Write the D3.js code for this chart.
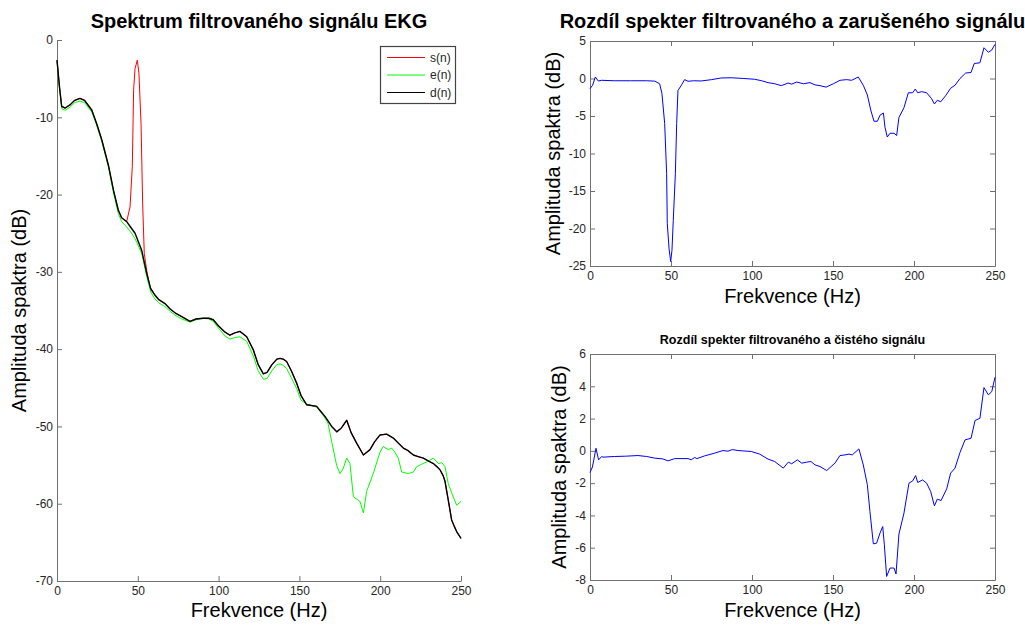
<!DOCTYPE html>
<html>
<head>
<meta charset="utf-8">
<script src="https://cdn.jsdelivr.net/npm/d3@7"></script>
<style>
  html, body { margin: 0; padding: 0; background: #fff; }
  svg { display: block; font-family: "Liberation Sans", Arial, sans-serif; }
</style>
</head>
<body>
<svg id="chart" width="1025" height="629"></svg>
<script>
// ---------- DATA ----------
const xTicks = [0, 50, 100, 150, 200, 250];
const leftYTicks = [-70, -60, -50, -40, -30, -20, -10, 0];
const topRightYTicks = [-25, -20, -15, -10, -5, 0, 5];
const bottomRightYTicks = [-8, -6, -4, -2, 0, 2, 4, 6];

const legendLabels = ["s(n)", "e(n)", "d(n)"];
const seriesColors = ["#ff0000", "#00ff00", "#000000"];
const seriesWidths = [1, 1, 1.4];

// s(n) – noisy signal spectrum [Hz, dB]
const sSeries = [
  [0,-2.6],[1.5,-6.0],[2.9,-8.6],[5,-8.8],[8,-8.4],[11,-7.8],[14.2,-7.55],[17,-7.8],
  [21.5,-9.06],[24.5,-10.8],[27.7,-12.9],[31.8,-16.2],[35,-19.5],[37.9,-22],[40,-23],
  [43.1,-23.5],[45.2,-21.6],[46.6,-16.4],[47.4,-6.5],[48.3,-3.7],[49.7,-2.6],[50.7,-4.3],
  [52,-10.8],[53,-21.1],[54,-27.6],[55.5,-29.8],[57.5,-31.9],[60.6,-33],[63,-33.6],
  [66.8,-34.1],[70,-34.8],[73,-35.3],[77.2,-35.8],[82.3,-36.4],[86,-36.1],[90.5,-36.0],
  [94,-36.0],[96.7,-36.2],[100,-37.0],[104,-37.8],[107,-38.2],[110,-37.9],[113.2,-37.7],
  [117.4,-38.4],[121.5,-40.1],[124.5,-42.0],[127.7,-43.2],[130,-43.0],[133,-42.0],
  [136,-41.3],[138,-41.2],[140,-41.3],[142.1,-41.6],[145,-42.8],[148.3,-44.4],[151,-46.0],
  [154.5,-47.2],[157.5,-47.3],[160.7,-47.4],[163,-48.0],[165.8,-48.7],[170,-50.0],
  [173.1,-50.7],[176,-50.2],[179.3,-49.2],[182,-50.8],[185.5,-52.2],[189.6,-53.7],
  [193.7,-53.0],[196.5,-52.0],[199.9,-51.1],[204,-51.0],[208.1,-51.5],[211,-52.1],
  [214.3,-52.8],[217,-53.1],[220.5,-53.7],[223.5,-53.9],[226.7,-54.1],[230,-54.5],
  [232.9,-54.8],[235,-55.2],[237,-55.6],[239,-56.4],[240.1,-57.1],[242.1,-59.5],
  [244.2,-62.1],[246,-63.0],[247.3,-63.6],[250,-64.5]
];

// e(n) – clean signal spectrum
const eSeries = [
  [0,-2.6],[1.5,-6.2],[3,-8.9],[5,-9.1],[8,-8.7],[11,-8.1],[14.2,-7.9],[17,-8.1],
  [21.5,-9.3],[24.5,-11],[27.7,-13.1],[31.8,-16.4],[35,-19.8],[37.9,-22.4],[40,-23.5],
  [43.1,-24.2],[45.5,-24.8],[48.3,-25.7],[52.4,-27.6],[55.5,-30.6],[58,-32.6],[60.6,-33.5],
  [63,-34.0],[66.8,-34.5],[70,-35.1],[73,-35.6],[77.2,-36.1],[82.3,-36.5],[86,-36.2],
  [90.5,-36.0],[94,-36.1],[96.7,-36.4],[100,-37.3],[104,-38.3],[107,-38.7],[110,-38.5],
  [113.2,-38.4],[117.4,-39.0],[121.5,-40.9],[124.5,-42.8],[127.7,-43.9],[130,-43.8],
  [133,-42.8],[136,-42.0],[138,-41.9],[140,-42.1],[142.1,-42.5],[145,-43.7],[148.3,-45.1],
  [151,-46.6],[154.5,-47.1],[157.5,-47.3],[160.7,-47.5],[163,-48.1],[165.8,-48.9],
  [167.7,-49.6],[170,-52],[173,-55],[175.1,-56.1],[177,-55.5],[179.3,-54.1],[181.3,-54.8],
  [183.4,-59.1],[187.5,-59.7],[189.6,-61.2],[191.6,-58.4],[195.7,-56.1],[199.9,-53.3],
  [201.9,-52.6],[205,-53.0],[207.1,-52.8],[209,-53.3],[211.2,-54.1],[213.3,-55.9],
  [217.4,-56.1],[220.5,-55.9],[222.6,-55.2],[225.5,-54.9],[228.8,-54.6],[232.9,-54.1],
  [236,-54.8],[238.1,-54.7],[240.1,-55.2],[242.1,-57.4],[245,-59.0],[247.3,-60.2],[250,-59.7]
];

// d(n) – filtered signal spectrum
const dSeries = [
  [0,-2.6],[1.5,-6.0],[2.9,-8.6],[5,-8.8],[8,-8.4],[11,-7.8],[14.2,-7.55],[17,-7.8],
  [21.5,-9.06],[24.5,-10.8],[27.7,-12.9],[31.8,-16.2],[35,-19.5],[37.9,-22],[40,-23],
  [43.1,-23.5],[45.5,-24.2],[48.3,-25],[52.4,-27.2],[55.5,-30.2],[58,-32.2],[60.6,-33],
  [63,-33.6],[66.8,-34.1],[70,-34.8],[73,-35.3],[77.2,-35.8],[82.3,-36.4],[86,-36.1],
  [90.5,-36.0],[94,-36.0],[96.7,-36.2],[100,-37.0],[104,-37.8],[107,-38.2],[110,-37.9],
  [113.2,-37.7],[117.4,-38.4],[121.5,-40.1],[124.5,-42.0],[127.7,-43.2],[130,-43.0],
  [133,-42.0],[136,-41.3],[138,-41.2],[140,-41.3],[142.1,-41.6],[145,-42.8],[148.3,-44.4],
  [151,-46.0],[154.5,-47.2],[157.5,-47.3],[160.7,-47.4],[163,-48.0],[165.8,-48.7],
  [170,-50.0],[173.1,-50.7],[176,-50.2],[179.3,-49.2],[182,-50.8],[185.5,-52.2],
  [189.6,-53.7],[193.7,-53.0],[196.5,-52.0],[199.9,-51.1],[204,-51.0],[208.1,-51.5],
  [211,-52.1],[214.3,-52.8],[217,-53.1],[220.5,-53.7],[223.5,-53.9],[226.7,-54.1],
  [230,-54.5],[232.9,-54.8],[235,-55.2],[237,-55.6],[239,-56.4],[240.1,-57.1],
  [242.1,-59.5],[244.2,-62.1],[246,-63.0],[247.3,-63.6],[250,-64.5]
];

// difference filtered − noisy
const diffNoisy = [
  [0,-1.35],[1.6,-0.9],[3.3,0.2],[5.1,-0.33],[7.2,-0.24],[15,-0.3],[25,-0.3],[35,-0.3],
  [40,-0.35],[43,-0.7],[44.4,-2.0],[46.1,-6.0],[47.3,-12.7],[47.7,-19.3],[48.8,-22.7],
  [49.8,-24.4],[50.6,-22.9],[51.4,-18.9],[52.7,-12.7],[53.5,-6.0],[54.3,-1.6],[56.4,-0.9],
  [58.4,-0.15],[60.5,-0.37],[64,-0.3],[68.7,-0.33],[75,-0.15],[81,0.07],[87.2,0.1],
  [95,0.0],[101.6,-0.1],[106,-0.3],[109.9,-0.55],[114,-0.7],[118.1,-0.95],[122.3,-0.6],
  [124.5,-0.75],[127.6,-0.47],[131.7,-0.7],[135.8,-0.55],[138.9,-0.85],[142,-0.95],
  [145.7,-1.15],[150.2,-0.7],[154.3,-0.24],[158.4,-0.15],[161.5,-0.24],[165.6,0.2],
  [168.7,-0.9],[171.2,-2.2],[173.3,-4.2],[175.3,-5.7],[177.4,-5.7],[179,-4.9],[181.1,-4.6],
  [182.1,-6.5],[183.5,-7.8],[185.2,-7.3],[187.7,-7.3],[189.3,-7.6],[190.7,-5.2],
  [193.8,-3.9],[196.5,-1.9],[199.2,-1.9],[200.8,-1.4],[202.3,-1.9],[204.7,-1.75],
  [207.8,-1.9],[210.9,-2.7],[212.6,-3.4],[214.4,-2.9],[216.5,-3.1],[219.5,-2.3],
  [222.6,-1.3],[225.3,-0.9],[228.4,0.0],[231.9,0.73],[235.2,0.8],[237.2,2.0],[240.7,2.1],
  [243.2,4.1],[245.9,3.5],[248,3.8],[250,4.56]
];

// difference filtered − clean
const diffClean = [
  [0,-1.34],[1.5,-1.0],[3.7,0.16],[5.3,-0.56],[7.2,-0.35],[8,-0.39],[15,-0.35],[22,-0.33],
  [29.6,-0.29],[35,-0.35],[39.9,-0.45],[45,-0.5],[48.1,-0.62],[52.3,-0.48],[60.5,-0.48],
  [62.5,-0.55],[64.6,-0.41],[66,-0.48],[70.8,-0.31],[77,-0.14],[82.1,0.02],[85.2,-0.02],
  [87.8,0.08],[91.4,0.02],[99.6,-0.04],[104.7,-0.2],[109.9,-0.51],[114,-0.66],[119.3,-1.07],
  [122.4,-0.7],[124.5,-0.8],[128,-0.56],[130.7,-0.76],[133.7,-0.7],[136.4,-0.66],
  [138.9,-0.87],[142,-0.97],[146.1,-1.22],[151.2,-0.76],[154.3,-0.29],[157.4,-0.25],
  [159.9,-0.2],[161.9,-0.25],[166,0.12],[168.7,-0.87],[171.2,-2.1],[172.8,-3.75],
  [174.9,-5.76],[176.9,-5.72],[179,-5.1],[180.7,-4.69],[181.7,-5.82],[183.1,-7.78],
  [185.2,-7.26],[187.7,-7.26],[188.9,-7.63],[190.7,-5.16],[193.8,-3.86],[196.9,-2.0],
  [199.2,-1.86],[201,-1.53],[202.3,-1.96],[205.3,-1.8],[207.8,-2.0],[210.3,-2.52],
  [212.6,-3.41],[214.4,-2.99],[216.7,-3.08],[220.2,-2.35],[222.6,-1.38],[225.3,-1.07],
  [228.4,-0.1],[231.5,0.68],[235.2,0.78],[237.7,1.88],[240.7,2.02],[243.2,3.92],
  [245.9,3.47],[248,3.67],[250,4.56]
];

// ---------- DRAWING ----------
const svg = d3.select("#chart");
const AXIS_COLOR = "#707070";
const TEXT_COLOR = "#262626";
const FONT = "'Liberation Sans', Arial, sans-serif";

function styleAxis(g) {
  g.selectAll("path.domain").attr("stroke", AXIS_COLOR).attr("stroke-width", 1);
  g.selectAll(".tick line").attr("stroke", AXIS_COLOR).attr("stroke-width", 1);
  g.selectAll(".tick text").attr("fill", TEXT_COLOR).attr("font-size", 12).attr("font-family", FONT);
}

function panel(opts) {
  const x = d3.scaleLinear().domain([0, 250]).range([opts.x0, opts.x1]);
  const y = d3.scaleLinear().domain(opts.yDomain).range([opts.y1, opts.y0]);
  const fmt = d => String(d);

  if (opts.box) {
    const gt = svg.append("g").attr("transform", `translate(0,${opts.y0})`)
      .call(d3.axisTop(x).tickValues(xTicks).tickSizeInner(-5).tickSizeOuter(0).tickFormat(""));
    styleAxis(gt);
    const gr = svg.append("g").attr("transform", `translate(${opts.x1},0)`)
      .call(d3.axisRight(y).tickValues(opts.yTicks).tickSizeInner(-5).tickSizeOuter(0).tickFormat(""));
    styleAxis(gr);
  }
  const gx = svg.append("g").attr("transform", `translate(0,${opts.y1})`)
    .call(d3.axisBottom(x).tickValues(xTicks).tickSizeInner(-5).tickSizeOuter(0).tickPadding(5).tickFormat(fmt));
  styleAxis(gx);
  const gy = svg.append("g").attr("transform", `translate(${opts.x0},0)`)
    .call(d3.axisLeft(y).tickValues(opts.yTicks).tickSizeInner(-5).tickSizeOuter(0).tickPadding(4).tickFormat(fmt));
  styleAxis(gy);

  const line = d3.line().x(d => x(d[0])).y(d => y(d[1]));
  opts.series.forEach((s, i) => {
    svg.append("path").datum(s).attr("d", line)
      .attr("fill", "none").attr("stroke", opts.colors[i]).attr("stroke-width", opts.widths[i])
      .attr("stroke-linejoin", "round");
  });

  svg.append("text").attr("x", (opts.x0 + opts.x1) / 2).attr("y", opts.titleY)
    .attr("text-anchor", "middle").attr("font-weight", "bold")
    .attr("font-size", opts.titleSize).attr("font-family", FONT).attr("fill", "#000")
    .text(opts.title);
  svg.append("text").attr("x", (opts.x0 + opts.x1) / 2).attr("y", opts.xLabelY)
    .attr("text-anchor", "middle").attr("font-size", 20).attr("font-family", FONT).attr("fill", "#000")
    .text("Frekvence (Hz)");
  svg.append("text")
    .attr("transform", `translate(${opts.yLabelX},${(opts.y0 + opts.y1) / 2}) rotate(-90)`)
    .attr("text-anchor", "middle").attr("font-size", 20).attr("font-family", FONT).attr("fill", "#000")
    .text("Amplituda spaktra (dB)");
  return { x, y };
}

// Left panel
panel({
  x0: 57, x1: 461, y0: 40, y1: 581,
  yDomain: [-70, 0], yTicks: leftYTicks, box: false,
  series: [sSeries, eSeries, dSeries], colors: seriesColors, widths: seriesWidths,
  title: "Spektrum filtrovaného signálu EKG", titleY: 28, titleSize: 20,
  xLabelY: 617, yLabelX: 26
});

// Top-right panel
panel({
  x0: 590, x1: 995, y0: 41, y1: 266,
  yDomain: [-25, 5], yTicks: topRightYTicks, box: true,
  series: [diffNoisy], colors: ["#0000ff"], widths: [1],
  title: "Rozdíl spekter filtrovaného a zarušeného signálu", titleY: 28, titleSize: 20,
  xLabelY: 303, yLabelX: 560
});

// Bottom-right panel
panel({
  x0: 590, x1: 995, y0: 354, y1: 580,
  yDomain: [-8, 6], yTicks: bottomRightYTicks, box: true,
  series: [diffClean], colors: ["#0000ff"], widths: [1],
  title: "Rozdíl spekter filtrovaného a čistého signálu", titleY: 344, titleSize: 12.5,
  xLabelY: 617, yLabelX: 566
});

// Legend
const lg = svg.append("g");
lg.append("rect").attr("x", 380.5).attr("y", 46.5).attr("width", 75).attr("height", 57)
  .attr("fill", "#fff").attr("stroke", "#444").attr("stroke-width", 1.2);
legendLabels.forEach((lab, i) => {
  const yy = 57.5 + i * 17.5;
  lg.append("line").attr("x1", 387).attr("x2", 425).attr("y1", yy).attr("y2", yy)
    .attr("stroke", seriesColors[i]).attr("stroke-width", 1);
  lg.append("text").attr("x", 430).attr("y", yy).attr("dy", "0.35em")
    .attr("font-size", 12).attr("font-family", FONT).attr("fill", TEXT_COLOR).text(lab);
});
</script>
</body>
</html>
